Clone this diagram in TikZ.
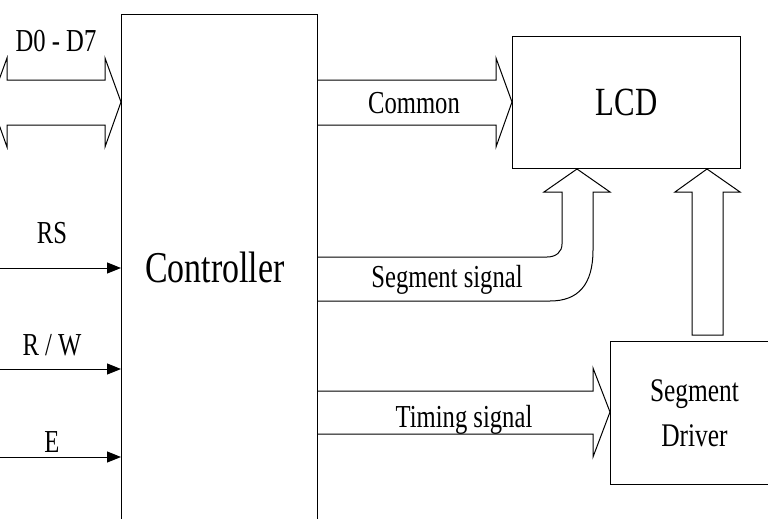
\documentclass[tikz,border=0pt]{standalone}
\usepackage{fontspec}
\setmainfont{Liberation Serif}[FakeStretch=0.77]
\usetikzlibrary{arrows.meta,calc}
\begin{document}
\begin{tikzpicture}[x=1pt,y=-1pt, line width=1pt, line join=miter,
  blk/.style={draw, fill=white, inner sep=0pt, anchor=north west},
  lbl/.style={font=\fontsize{32}{38}\selectfont, anchor=base, inner sep=0pt},
  sig/.style={-{Triangle[length=14pt,width=11pt]}}]
\useasboundingbox (0,0) rectangle (768,519);
\clip (0,0) rectangle (768,519);
\fill[white] (0,0) rectangle (768,519);
% boxes
\node[blk, minimum width=195.5pt, minimum height=560pt] (ctrl) at (121,14) {};
\node[blk, minimum width=228pt, minimum height=132pt, font=\fontsize{40}{48}\selectfont] (lcd) at (512,36) {LCD};
\node[blk, minimum width=168pt, minimum height=143pt, align=center, font=\fontsize{33}{45}\selectfont] (drv) at (610,341) {Segment\\Driver};
\node[font=\fontsize{44}{52}\selectfont, anchor=base, inner sep=0pt] (ctrltxt) at (215,282) {Controller};
% thin inputs
\coordinate (rsin) at (0,268);
\coordinate (rwin) at (0,369);
\coordinate (ein) at (0,457);
\draw[sig] (rsin) -- (rsin -| ctrl.west);
\draw[sig] (rwin) -- (rwin -| ctrl.west);
\draw[sig] (ein) -- (ein -| ctrl.west);
% D0-D7 double block arrow
\draw (-9,102) -- (7,58) -- (7,80) -- (105,80) -- (105,58) -- (ctrl.west |- 0,102)
  -- (105,147) -- (105,125) -- (7,125) -- (7,147) -- cycle;
% Common
\draw (ctrl.east |- 0,80) -- (496,80) -- (496,58) -- (lcd.west |- 0,102)
  -- (496,147) -- (496,125) -- (ctrl.east |- 0,125);
% Segment signal (bent)
\draw (ctrl.east |- 0,257) -- (547,257) .. controls (556,257) and (562,252) .. (562,244)
  -- (562,192) -- (544,192) -- (577,0 |- lcd.south) -- (610,192) -- (593,192)
  -- (593,250) .. controls (593,285) and (578,301) .. (550,301) -- (ctrl.east |- 0,301);
% Segment driver to LCD
\draw (692,335) -- (692,192) -- (675,192) -- (707,0 |- lcd.south) -- (740,192)
  -- (723,192) -- (723,335) -- cycle;
% Timing signal
\draw (ctrl.east |- 0,391) -- (593,391) -- (593,368) -- (drv.west |- 0,412)
  -- (593,457) -- (593,434) -- (ctrl.east |- 0,434);
% labels
\node[lbl] (ld) at (56,52) {D0 - D7};
\node[lbl] (lrs) at (52,243) {RS};
\node[lbl] (lrw) at (52,355) {R / W};
\node[lbl] (le) at (52,452) {E};
\node[lbl] (lcom) at (414,113) {Common};
\node[lbl] (lseg) at (447,287) {Segment signal};
\node[lbl] (ltim) at (464,427) {Timing signal};
\end{tikzpicture}
\end{document}
